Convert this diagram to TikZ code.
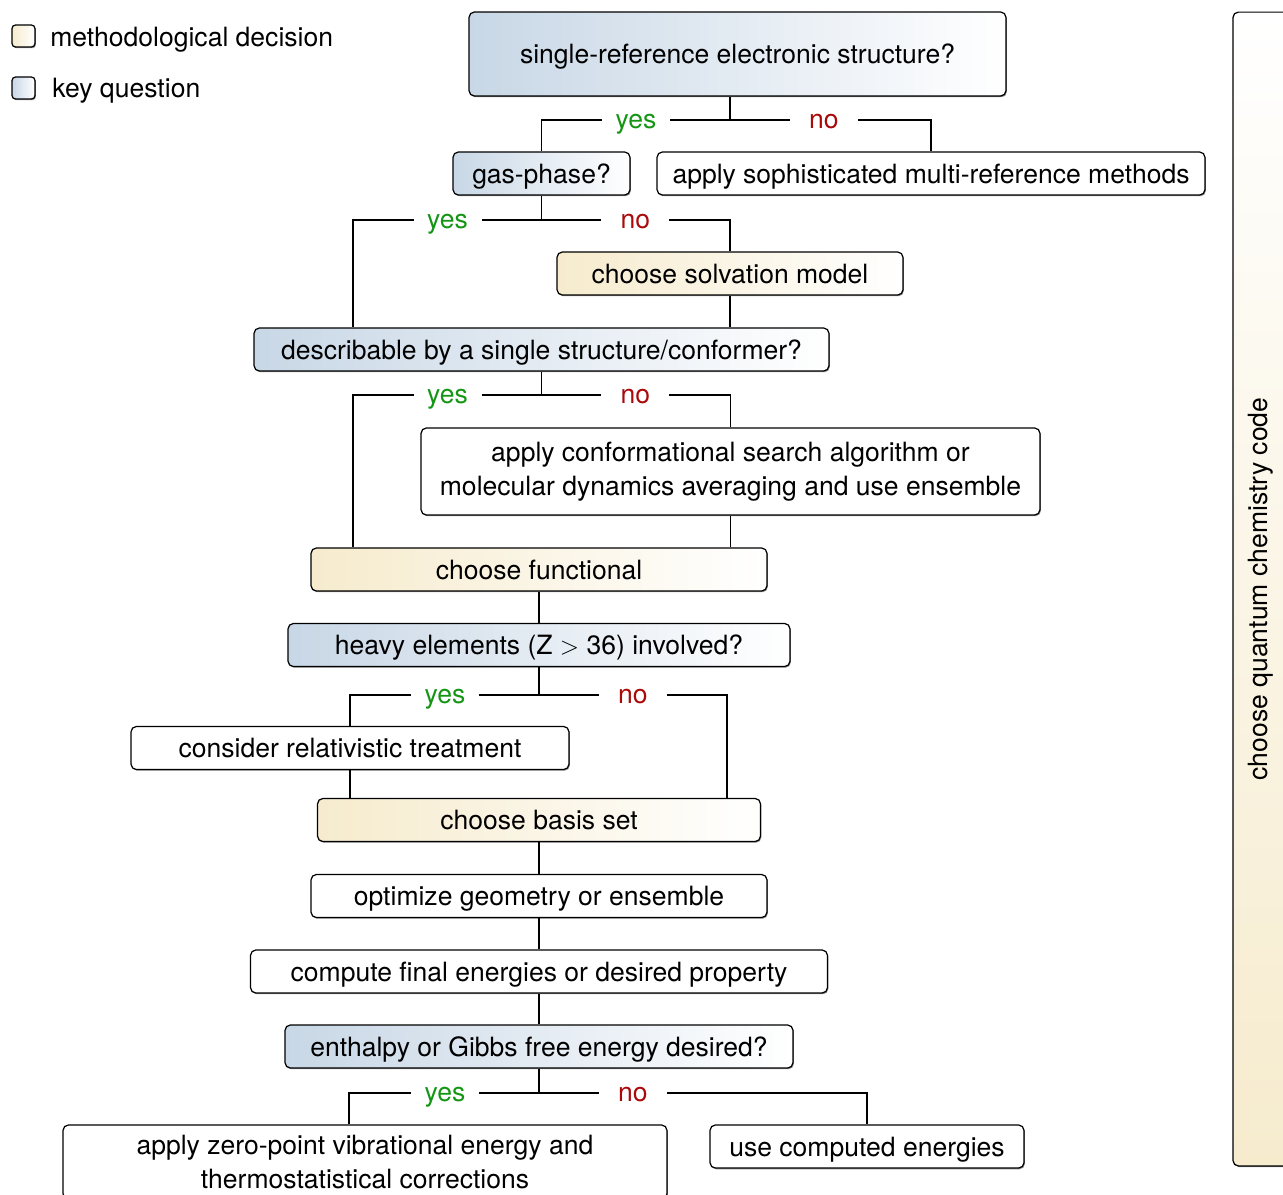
\documentclass[tikz,border=0pt]{standalone}
\usepackage{fontspec}
\setmainfont{TeX Gyre Heros}
\usetikzlibrary{shadows}
\definecolor{keyblue}{RGB}{200,215,230}
\definecolor{cream}{RGB}{246,235,205}
\definecolor{yesgreen}{RGB}{20,150,20}
\definecolor{nored}{RGB}{170,10,10}

\begin{document}
\begin{tikzpicture}
	[x=0.02cm, y=-0.02cm, font=\fontsize{15.1pt}{19pt}\selectfont,
	txt/.style		= {text height=13.6pt, text depth=2.4pt},
	box/.style		= {rectangle, draw, rounded corners=3pt, line width=0.7pt, align=center, inner sep=0pt, minimum height=0.86cm, fill=white, txt,
						drop shadow={shadow xshift=0.5pt, shadow yshift=-0.7pt, fill=black, opacity=0.45}},
	twolines/.style	= {text height={}, text depth={}},
	question/.style	= {box, left color=keyblue, right color=white},
	decision/.style	= {box, left color=cream, right color=white},
	codebar/.style	= {box, top color=white, bottom color=cream},
	link/.style		= {line width=0.7pt},
	yeslabel/.style	= {fill=white, text=yesgreen, inner sep=0pt, minimum width=1.36cm, text height=11.5pt, text depth=2.4pt},
	nolabel/.style	= {fill=white, text=nored, inner sep=0pt, minimum width=1.36cm, text height=11.5pt, text depth=2.4pt}]

	\useasboundingbox (0,0) rectangle (1283,1194);
	\clip (0,0) rectangle (1283,1194);

	\node at (23.5,36)		[decision, twolines, minimum width=0.46cm, minimum height=0.44cm, rounded corners=2pt]	(legdec)	{};
	\node at (50,37)		[anchor=west, inner sep=0pt, txt]	(legdectext)	{methodological decision};
	\node at (23.5,88)		[question, twolines, minimum width=0.46cm, minimum height=0.44cm, rounded corners=2pt]	(legkey)	{};
	\node at (52,88)		[anchor=west, inner sep=0pt, txt]	(legkeytext)	{key question};

	\node at (1261.5,589)	[codebar, twolines, minimum width=1.14cm, minimum height=23.08cm]	(code)	{};
	\node at (1258,589)		[rotate=90, inner sep=0pt, txt]	(codetext)	{choose quantum chemistry code};

	\node at (737.5,54)		[question, minimum width=10.74cm, minimum height=1.68cm]	(sref)	{single-reference electronic structure?};
	\node at (541.5,173.5)	[question, minimum width=3.54cm]	(gas)	{gas-phase?};
	\node at (931,173.5)	[box, minimum width=10.96cm]	(multi)	{apply sophisticated multi-reference methods};
	\node at (730,273.5)	[decision, minimum width=6.92cm]	(solv)	{choose solvation model};
	\node at (541.5,349.5)	[question, minimum width=11.5cm]	(desc)	{describable by a single structure/conformer?};
	\node at (730.5,471.5)	[box, twolines, minimum width=12.38cm, minimum height=1.74cm]	(conf)	{apply conformational search algorithm or\\molecular dynamics averaging and use ensemble};
	\node at (539,569.5)	[decision, minimum width=9.12cm]	(func)	{choose functional};
	\node at (539,645)		[question, minimum width=10.04cm]	(heavy)	{heavy elements (Z $>$ 36) involved?};
	\node at (350,748)		[box, minimum width=8.76cm]	(rel)	{consider relativistic treatment};
	\node at (539,820)		[decision, minimum width=8.86cm]	(basis)	{choose basis set};
	\node at (539,896)		[box, minimum width=9.12cm]	(opt)	{optimize geometry or ensemble};
	\node at (539,971.5)	[box, minimum width=11.54cm]	(comp)	{compute final energies or desired property};
	\node at (539,1046.5)	[question, minimum width=10.16cm]	(enth)	{enthalpy or Gibbs free energy desired?};
	\node at (365,1162)		[box, twolines, minimum width=12.08cm, minimum height=1.48cm]	(zpe)	{apply zero-point vibrational energy and\\thermostatistical corrections};
	\node at (867,1146.5)	[box, minimum width=6.28cm]	(use)	{use computed energies};

	\coordinate (j1) at (730,120);
	\coordinate (j2) at (541.5,220);
	\coordinate (j2l) at (353,220);
	\coordinate (j3) at (541.5,395);
	\coordinate (j3l) at (353,395);
	\coordinate (j4) at (539,695);
	\coordinate (j4r) at (727,695);
	\coordinate (j5) at (539,1093);
	\coordinate (j5l) at (349,1093);

	\draw [link] (j1 |- sref.south) -- (j1);
	\draw [link] (j1) -- (j1 -| gas) -- (gas) ([xshift=-1.88cm]j1) node [yeslabel] {yes};
	\draw [link] (j1) -- (j1 -| multi) -- (multi) ([xshift=1.88cm]j1) node [nolabel] {no};

	\draw [link] (gas) -- (j2);
	\draw [link] (j2) -- (j2l) -- (j2l |- desc.north) ([xshift=-1.88cm]j2) node [yeslabel] {yes};
	\draw [link] (j2) -- (j2 -| solv) -- (solv) ([xshift=1.88cm]j2) node [nolabel] {no};
	\draw [link] (solv) -- (solv |- desc.north);

	\draw [link] (desc) -- (j3);
	\draw [link] (j3) -- (j3l) -- (j3l |- func.north) ([xshift=-1.88cm]j3) node [yeslabel] {yes};
	\draw [link] (j3) -- (j3 -| conf) -- (conf) ([xshift=1.88cm]j3) node [nolabel] {no};
	\draw [link] (conf) -- (conf |- func.north);
	\draw [link] (func) -- (heavy);

	\draw [link] (heavy) -- (j4);
	\draw [link] (j4) -- (j4 -| rel) -- (rel) ([xshift=-1.88cm]j4) node [yeslabel] {yes};
	\draw [link] (j4) -- (j4r) -- (j4r |- basis.north) ([xshift=1.88cm]j4) node [nolabel] {no};
	\draw [link] (rel) -- (rel |- basis.north);
	\draw [link] (basis) -- (opt);
	\draw [link] (opt) -- (comp);
	\draw [link] (comp) -- (enth);

	\draw [link] (enth) -- (j5);
	\draw [link] (j5) -- (j5l) -- (j5l |- zpe.north) ([xshift=-1.88cm]j5) node [yeslabel] {yes};
	\draw [link] (j5) -- (j5 -| use) -- (use) ([xshift=1.88cm]j5) node [nolabel] {no};
\end{tikzpicture}
\end{document}
